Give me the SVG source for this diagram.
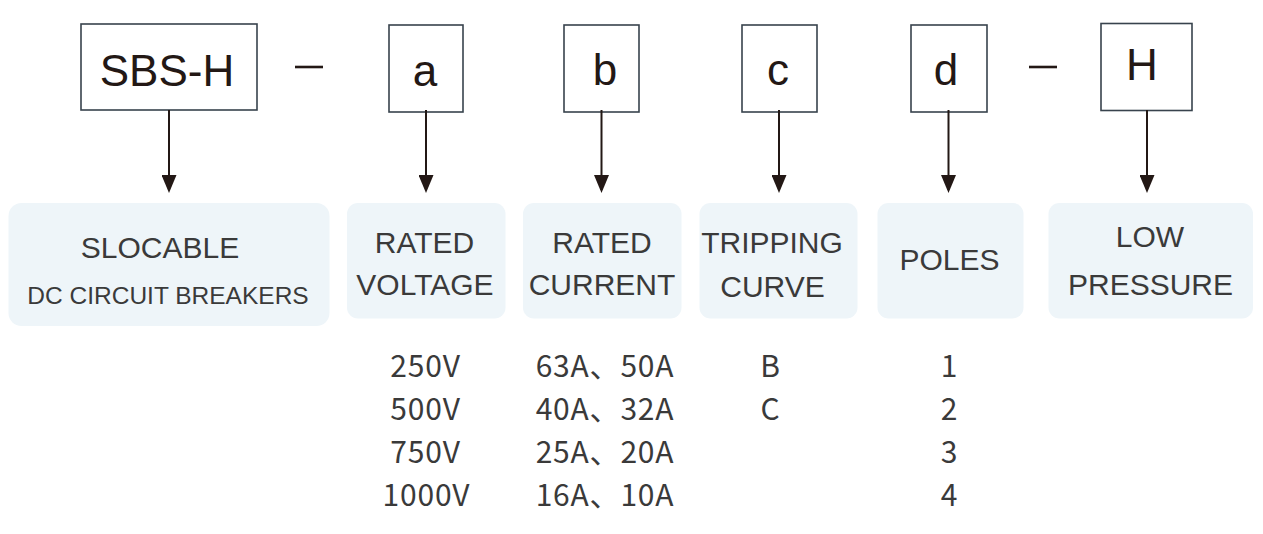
<svg xmlns="http://www.w3.org/2000/svg" width="1263" height="534" viewBox="0 0 1263 534">
<style>
  .code rect { fill: #ffffff; stroke: #38434d; stroke-width: 1.6; }
  .code text { font-family: "Liberation Sans", Arial, sans-serif; font-size: 44px; fill: #231815; text-anchor: middle; }
  .dash { stroke: #231815; stroke-width: 2.6; }
  .conn line { stroke: #231815; stroke-width: 2; marker-end: url(#arrow); }
  .label rect { fill: #eef5f9; }
  .label text { font-family: "Liberation Sans", Arial, sans-serif; font-size: 30px; fill: #3a3a3a; text-anchor: middle; }
  .vals text { font-family: "Noto Sans CJK SC", "Open Sans", sans-serif; font-size: 30px; letter-spacing: 0.8px; fill: #3a3a3a; text-anchor: middle; }
</style>
<defs>
  <marker id="arrow" markerUnits="userSpaceOnUse" markerWidth="18" markerHeight="15" refX="15" refY="7.5" orient="auto">
    <path d="M0,0 L18,7.5 L0,15 Z" fill="#231815"/>
  </marker>
</defs>
<rect width="1263" height="534" fill="#ffffff"/>

<g id="code-sbsh" class="code">
  <rect x="81" y="24" width="176" height="86"/>
  <text x="167" y="86">SBS-H</text>
</g>
<line class="dash" x1="295" y1="67" x2="323" y2="67"/>
<g id="code-a" class="code">
  <rect x="389" y="25" width="74" height="87"/>
  <text x="425" y="86">a</text>
</g>
<g id="code-b" class="code">
  <rect x="564" y="25" width="75" height="87"/>
  <text x="605" y="85">b</text>
</g>
<g id="code-c" class="code">
  <rect x="742" y="25" width="75" height="87"/>
  <text x="778" y="85">c</text>
</g>
<g id="code-d" class="code">
  <rect x="911" y="25" width="76" height="87"/>
  <text x="946" y="85">d</text>
</g>
<line class="dash" x1="1029" y1="67" x2="1057" y2="67"/>
<g id="code-h" class="code">
  <rect x="1101" y="23.5" width="91" height="87"/>
  <text x="1142" y="80">H</text>
</g>

<g id="connectors" class="conn">
  <line x1="169" y1="110" x2="169" y2="190"/>
  <line x1="426" y1="110" x2="426" y2="190"/>
  <line x1="601.5" y1="110" x2="601.5" y2="190"/>
  <line x1="779" y1="110" x2="779" y2="190"/>
  <line x1="948.5" y1="110" x2="948.5" y2="190"/>
  <line x1="1147" y1="110" x2="1147" y2="190"/>
</g>

<g id="label-slocable" class="label">
  <rect x="8.5" y="203" width="321" height="123" rx="13"/>
  <text x="160" y="258">SLOCABLE</text>
  <text x="168" y="304" style="font-size:24.5px">DC CIRCUIT BREAKERS</text>
</g>
<g id="label-voltage" class="label">
  <rect x="347" y="203" width="158.5" height="115.5" rx="11"/>
  <text x="424.5" y="253">RATED</text>
  <text x="425" y="295">VOLTAGE</text>
</g>
<g id="label-current" class="label">
  <rect x="523" y="203" width="158.5" height="115.5" rx="11"/>
  <text x="602" y="253">RATED</text>
  <text x="602" y="295">CURRENT</text>
</g>
<g id="label-tripping" class="label">
  <rect x="699.5" y="203" width="158" height="115.5" rx="11"/>
  <text x="772" y="252.5">TRIPPING</text>
  <text x="772.5" y="297">CURVE</text>
</g>
<g id="label-poles" class="label">
  <rect x="877.5" y="203" width="146" height="115.5" rx="11"/>
  <text x="949.5" y="270">POLES</text>
</g>
<g id="label-pressure" class="label">
  <rect x="1048.5" y="203" width="204.5" height="115.5" rx="11"/>
  <text x="1150" y="247">LOW</text>
  <text x="1150.5" y="295">PRESSURE</text>
</g>

<g id="values-voltage" class="vals">
  <text x="425.5" y="377">250V</text>
  <text x="425.5" y="420">500V</text>
  <text x="425.5" y="463">750V</text>
  <text x="426.5" y="506">1000V</text>
</g>
<g id="values-current" class="vals">
  <text x="605" y="377">63A、50A</text>
  <text x="605" y="420">40A、32A</text>
  <text x="605" y="463">25A、20A</text>
  <text x="605" y="506">16A、10A</text>
</g>
<g id="values-curve" class="vals">
  <text x="770.5" y="377">B</text>
  <text x="770.5" y="420">C</text>
</g>
<g id="values-poles" class="vals">
  <text x="949.5" y="377">1</text>
  <text x="949.5" y="420">2</text>
  <text x="949.5" y="463">3</text>
  <text x="949.5" y="506">4</text>
</g>
</svg>
